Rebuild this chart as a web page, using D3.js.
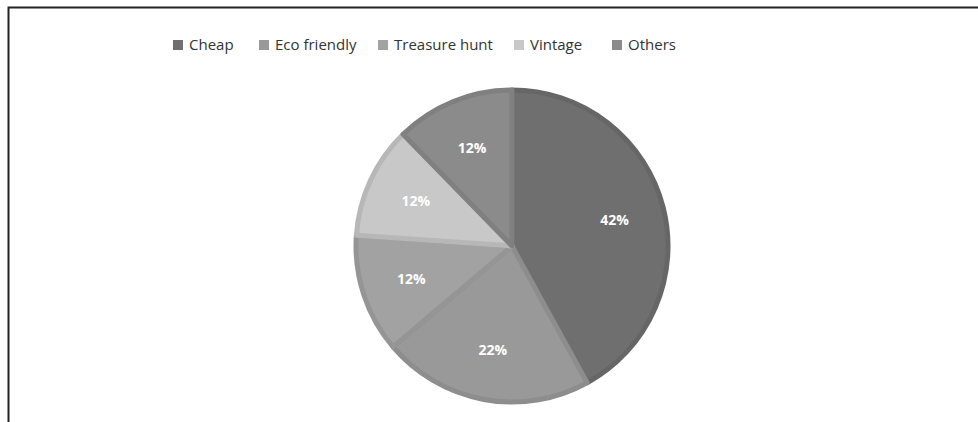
<!DOCTYPE html>
<html>
<head>
<meta charset="utf-8">
<script src="https://cdn.jsdelivr.net/npm/d3@7"></script>
<style>
  body { margin: 0; background: #fff; }
  svg text { font-family: "Open Sans", "Noto Sans", sans-serif; }
</style>
</head>
<body>
<div class="chart"></div>
<script>
var svgWidth = 978;
var svgHeight = 422;

// data
var categories = ["Cheap", "Eco friendly", "Treasure hunt", "Vintage", "Others"];
var shares = [42, 21.8, 12.3, 11.6, 12.3];
var fills = ["#6f6f6f", "#999999", "#a2a2a2", "#c8c8c8", "#8b8b8b"];
var borders = ["#666666", "#8d8d8d", "#959595", "#b7b7b7", "#808080"];

var svg = d3.select(".chart")
  .append("svg")
  .attr("width", svgWidth)
  .attr("height", svgHeight);

// chart frame (only top and left edges visible)
svg.append("path")
  .attr("d", "M8.5,422 L8.5,7.5 L978,7.5")
  .attr("fill", "none")
  .attr("stroke", "#222")
  .attr("stroke-width", 2);

var cx = 512, cy = 246, radius = 156;

var pie = d3.pie().sort(null).value(d => d);
var arcs = pie(shares);

var arc = d3.arc().innerRadius(0).outerRadius(radius);
var labelArc = d3.arc().innerRadius(106).outerRadius(106);

var pieGroup = svg.append("g")
  .attr("transform", `translate(${cx}, ${cy})`);

var total = d3.sum(shares);

pieGroup.selectAll("path.slice")
  .data(arcs)
  .enter()
  .append("path")
  .attr("class", "slice")
  .attr("d", arc)
  .attr("fill", (d, i) => fills[i])
  .attr("stroke", (d, i) => borders[i])
  .attr("stroke-width", 5)
  .attr("stroke-linejoin", "round");

pieGroup.selectAll("text.pct")
  .data(arcs)
  .enter()
  .append("text")
  .attr("class", "pct")
  .attr("transform", d => `translate(${labelArc.centroid(d)})`)
  .attr("text-anchor", "middle")
  .attr("dy", "0.35em")
  .attr("fill", "#fff")
  .attr("font-size", "14px")
  .attr("font-weight", "bold")
  .text(d => Math.round(d.data / total * 100) + "%");

// legend
var legendX = [173, 259, 378, 514, 612];
var legend = svg.append("g");

var items = legend.selectAll("g")
  .data(categories)
  .enter()
  .append("g")
  .attr("transform", (d, i) => `translate(${legendX[i]}, 45)`);

items.append("rect")
  .attr("x", 0)
  .attr("y", -5)
  .attr("width", 10)
  .attr("height", 10)
  .attr("fill", (d, i) => fills[i]);

items.append("text")
  .attr("x", 16)
  .attr("dy", "0.35em")
  .attr("font-size", "15px")
  .attr("fill", "#333")
  .text(d => d);
</script>
</body>
</html>
